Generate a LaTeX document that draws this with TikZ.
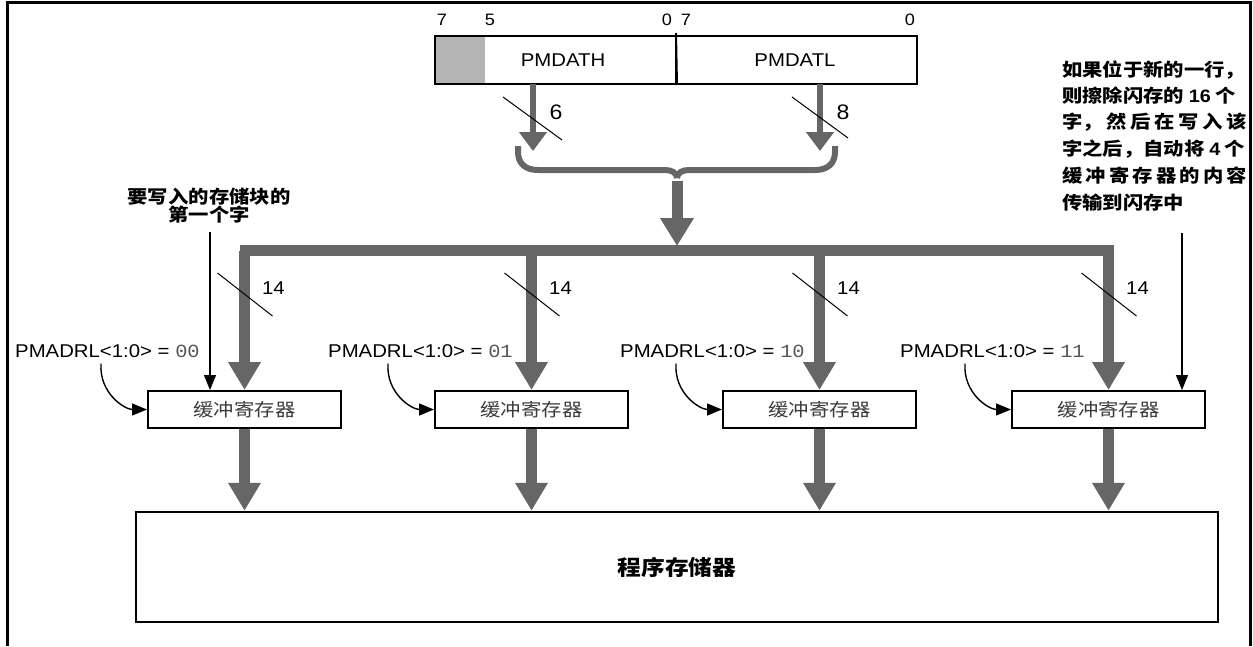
\documentclass[tikz,border=0pt]{standalone}
\usepackage{fontspec}
\setmainfont{Liberation Sans}[FakeStretch=1.1]
\newfontfamily\monofnt{Liberation Mono}[FakeStretch=1.1]
\newfontfamily\cjk{Noto Sans CJK SC}[FakeStretch=1.13]
\usetikzlibrary{arrows.meta}
\definecolor{busgray}{HTML}{666666}
\definecolor{regfill}{HTML}{B4B4B4}
\definecolor{buftext}{HTML}{3A3A3A}
\definecolor{monotext}{HTML}{555555}
\tikzset{
  txt/.style={inner sep=0pt, font=\fontsize{18.5}{22}\selectfont},
  bitnum/.style={inner sep=0pt, font=\fontsize{16.5}{20}\selectfont},
  widthnum/.style={inner sep=0pt, font=\fontsize{21}{24}\selectfont},
  bold/.style={inner sep=0pt, font=\fontsize{18}{21}\selectfont\cjk\bfseries},
  bufbox/.style={draw=black, line width=2pt, minimum width=193pt, minimum height=37pt, inner sep=0pt,
    font=\fontsize{18}{21}\selectfont\cjk, text=buftext},
  regbox/.style={draw=black, line width=2pt, minimum width=241pt, minimum height=48pt, inner sep=0pt},
  busline/.style={draw=busgray, line width=11pt},
  busarrow/.style={draw=busgray, line width=11pt, -{Triangle[width=31pt,length=28pt]}, fill=busgray},
  smallarrow/.style={draw=busgray, line width=6.5pt, -{Triangle[width=27pt,length=19pt]}, fill=busgray},
  thinarrow/.style={draw=black, line width=1.4pt, -{Triangle[width=12pt,length=15pt]}},
  slash/.style={draw=black, line width=1pt},
  lbl/.style={anchor=west, inner sep=0pt, font=\fontsize{18.5}{22}\selectfont},
}
\newcommand{\mono}[1]{{\monofnt\color{monotext}#1}}
\begin{document}
\begin{tikzpicture}[x=1pt,y=-1pt]
\useasboundingbox (0,0) rectangle (1253,646);
% outer frame (open at bottom)
\draw[line width=3pt] (7.5,646) -- (7.5,2.5) -- (1250.5,2.5) -- (1250.5,646);

% register
\fill[regfill] (435,36) rectangle (485,84);
\node[regbox] (regH) at (555.5,60) {};
\node[regbox] (regL) at (796.5,60) {};
\draw[line width=2pt] (676,33) -- (regH.south east);
\node[txt] (tH) at (563,60) {PMDATH};
\node[txt] (tL) at (795,60) {PMDATL};
\node[bitnum] (b7a) at (442,20) {7};
\node[bitnum] (b5) at (490,20) {5};
\node[bitnum] (b0a) at (667,20) {0};
\node[bitnum] (b7b) at (686,20) {7};
\node[bitnum] (b0b) at (910,20) {0};

% arrows from register
\coordinate (hS) at (533,84);
\coordinate (hE) at (533,151);
\coordinate (lS) at (820,84);
\coordinate (lE) at (820,151);
\draw[smallarrow] (hS) -- (hE);
\draw[smallarrow] (lS) -- (lE);
\draw[slash] (503,97) -- (562,140);
\draw[slash] (792,97) -- (848,138);
\node[widthnum] (n6) at (556,112) {6};
\node[widthnum] (n8) at (843,112) {8};

% brace
\draw[draw=busgray, line width=6pt]
  (518,146) -- (518,152) .. controls (518,164) and (526,170) .. (538,170) -- (665,170)
  .. controls (672,170) and (677,173) .. (677,178);
\draw[draw=busgray, line width=6pt]
  (835,146) -- (835,152) .. controls (835,164) and (827,170) .. (815,170) -- (689,170)
  .. controls (682,170) and (677,173) .. (677,178);
\coordinate (mS) at (677,181);
\coordinate (mE) at (677,246);
\draw[draw=busgray, line width=11pt, -{Triangle[width=32pt,length=28pt]}, fill=busgray] (mS) -- (mE);

% bus
\draw[busline] (239.5,250.5) -- (1113.5,250.5);

% buffer boxes
\node[bufbox] (b1) at (244.5,409.5) {缓冲寄存器};
\node[bufbox] (b2) at (531.5,409.5) {缓冲寄存器};
\node[bufbox] (b3) at (819.5,409.5) {缓冲寄存器};
\node[bufbox] (b4) at (1108.5,409.5) {缓冲寄存器};

% program memory
\node[draw=black, line width=2.5pt, minimum width=1082pt, minimum height=110pt, inner sep=0pt,
  font=\fontsize{21}{24}\selectfont\cjk\bfseries] (pm) at (677,567) {程序存储器};

% drops and outputs
\foreach \n/\x in {1/244.5,2/531.5,3/819.5,4/1108.5}{
  \coordinate (d\n) at (\x,250.5);
  \draw[busarrow] (d\n) -- (b\n.north);
  \draw[busarrow] (b\n.south) -- (b\n.south |- pm.north);
  \draw[slash] (\x-27,273) -- (\x+28,316);
  \node[txt] (w\n) at (\x+29,288) {14};
}

% PMADRL labels and curved arrows
\node[lbl] (p1) at (15,351) {PMADRL<1:0> = \mono{00}};
\node[lbl] (p2) at (328,351) {PMADRL<1:0> = \mono{01}};
\node[lbl] (p3) at (620,351) {PMADRL<1:0> = \mono{10}};
\node[lbl] (p4) at (900,351) {PMADRL<1:0> = \mono{11}};
\foreach \n in {1,2,3,4}{
  \coordinate (c\n) at ([xshift=-46pt,yshift=46pt]b\n.west);
  \draw[thinarrow] (c\n) .. controls ([xshift=-2pt,yshift=-30pt]c\n) and ([xshift=-22pt]b\n.west) .. (b\n.west);
}

% left annotation
\node[bold] (a1) at (209,197) {要写入的存储块的};
\node[bold] (a2) at (209,215) {第一个字};
\coordinate (a1S) at (210,232);
\draw[thinarrow] (a1S) -- (a1S |- b1.north);

% right annotation
\node[bold, anchor=west] (r1) at (1062,70) {如果位于新的一行，};
\node[bold, anchor=west] (r2) at (1062,96) {则擦除闪存的 {\rmfamily\bfseries 16} 个};
\node[bold, anchor=west] (r3) at (1062,122) {\makebox[185pt][l]{字，\hfill 然\hfill 后\hfill 在\hfill 写\hfill 入\hfill 该}};
\node[bold, anchor=west] (r4) at (1062,149) {字之后，自动将 {\rmfamily\bfseries 4} 个};
\node[bold, anchor=west] (r5) at (1062,176) {\makebox[185pt][l]{缓\hfill 冲\hfill 寄\hfill 存\hfill 器\hfill 的\hfill 内\hfill 容}};
\node[bold, anchor=west] (r6) at (1062,203) {传输到闪存中};
\coordinate (r6S) at (1182,233);
\draw[thinarrow] (r6S) -- (r6S |- b4.north);
\end{tikzpicture}
\end{document}
